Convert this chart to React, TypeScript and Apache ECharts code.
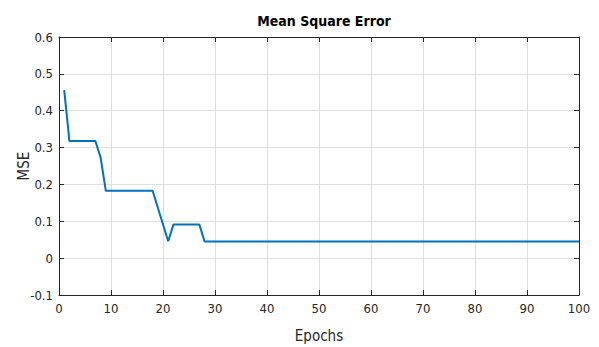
import React, { useEffect, useRef } from "react";
import * as echarts from "echarts";

const epochs = [1, 2, 7, 8, 9, 18, 21, 22, 27, 28, 100];
const mse = [0.456, 0.318, 0.318, 0.273, 0.183, 0.183, 0.046, 0.091, 0.091, 0.045, 0.045];
const titleText = "Mean Square Error";
const xName = "Epochs";
const yName = "MSE";

const FONT = "'DejaVu Sans Condensed', 'Liberation Sans Narrow', 'Liberation Sans', Arial, sans-serif";
const AXIS = "#262626";

export default function App() {
  const ref = useRef<HTMLDivElement>(null);
  useEffect(() => {
    document.body.style.margin = "0";
    if (!ref.current) return;
    const chart = echarts.init(ref.current, undefined, { renderer: "svg" });
    const data = epochs.map((e, i) => [e, mse[i]]);
    const baseAxis = {
      axisLine: { show: true, onZero: false, lineStyle: { color: AXIS, width: 1 } },
      axisTick: { show: true, inside: true, length: 5, lineStyle: { color: AXIS } },
    };
    chart.setOption({
      animation: false,
      backgroundColor: "#ffffff",
      title: {
        text: titleText,
        left: 319,
        top: 9,
        textAlign: "center",
        textStyle: { fontFamily: FONT, fontSize: 14, fontWeight: "bold", color: "#000" },
      },
      grid: { left: 59, right: 20, top: 37, bottom: 52, containLabel: false, outerBoundsMode: "none" },
      xAxis: [
        {
          ...baseAxis,
          type: "value",
          min: 0,
          max: 100,
          interval: 10,
          position: "bottom",
          name: xName,
          nameLocation: "middle",
          nameGap: 33,
          nameMoveOverlap: false,
          nameTextStyle: { fontFamily: FONT, fontSize: 15, color: AXIS },
          axisLabel: { fontFamily: FONT, fontSize: 13, color: AXIS, margin: 7 },
          splitLine: { show: true, lineStyle: { color: "#dedede", width: 1 } },
        },
        {
          ...baseAxis,
          type: "value",
          min: 0,
          max: 100,
          interval: 10,
          position: "top",
          axisLabel: { show: false },
          splitLine: { show: false },
        },
      ],
      yAxis: [
        {
          ...baseAxis,
          type: "value",
          min: -0.1,
          max: 0.6,
          interval: 0.1,
          position: "left",
          name: yName,
          nameLocation: "middle",
          nameGap: 28,
          nameMoveOverlap: false,
          nameTextStyle: { fontFamily: FONT, fontSize: 15, color: AXIS },
          axisLabel: {
            fontFamily: FONT,
            fontSize: 13,
            color: AXIS,
            margin: 6,
            formatter: (v: number) => {
              const r = Math.round(v * 10) / 10;
              return r === 0 ? "0" : String(r);
            },
          },
          splitLine: { show: true, lineStyle: { color: "#dedede", width: 1 } },
        },
        {
          ...baseAxis,
          type: "value",
          min: -0.1,
          max: 0.6,
          interval: 0.1,
          position: "right",
          axisLabel: { show: false },
          splitLine: { show: false },
        },
      ],
      series: [
        {
          type: "line",
          data,
          xAxisIndex: 0,
          yAxisIndex: 0,
          showSymbol: false,
          symbol: "none",
          lineStyle: { color: "#0072BD", width: 2 },
        },
      ],
    });
    return () => chart.dispose();
  }, []);
  return <div ref={ref} style={{ width: 599, height: 347 }} />;
}
